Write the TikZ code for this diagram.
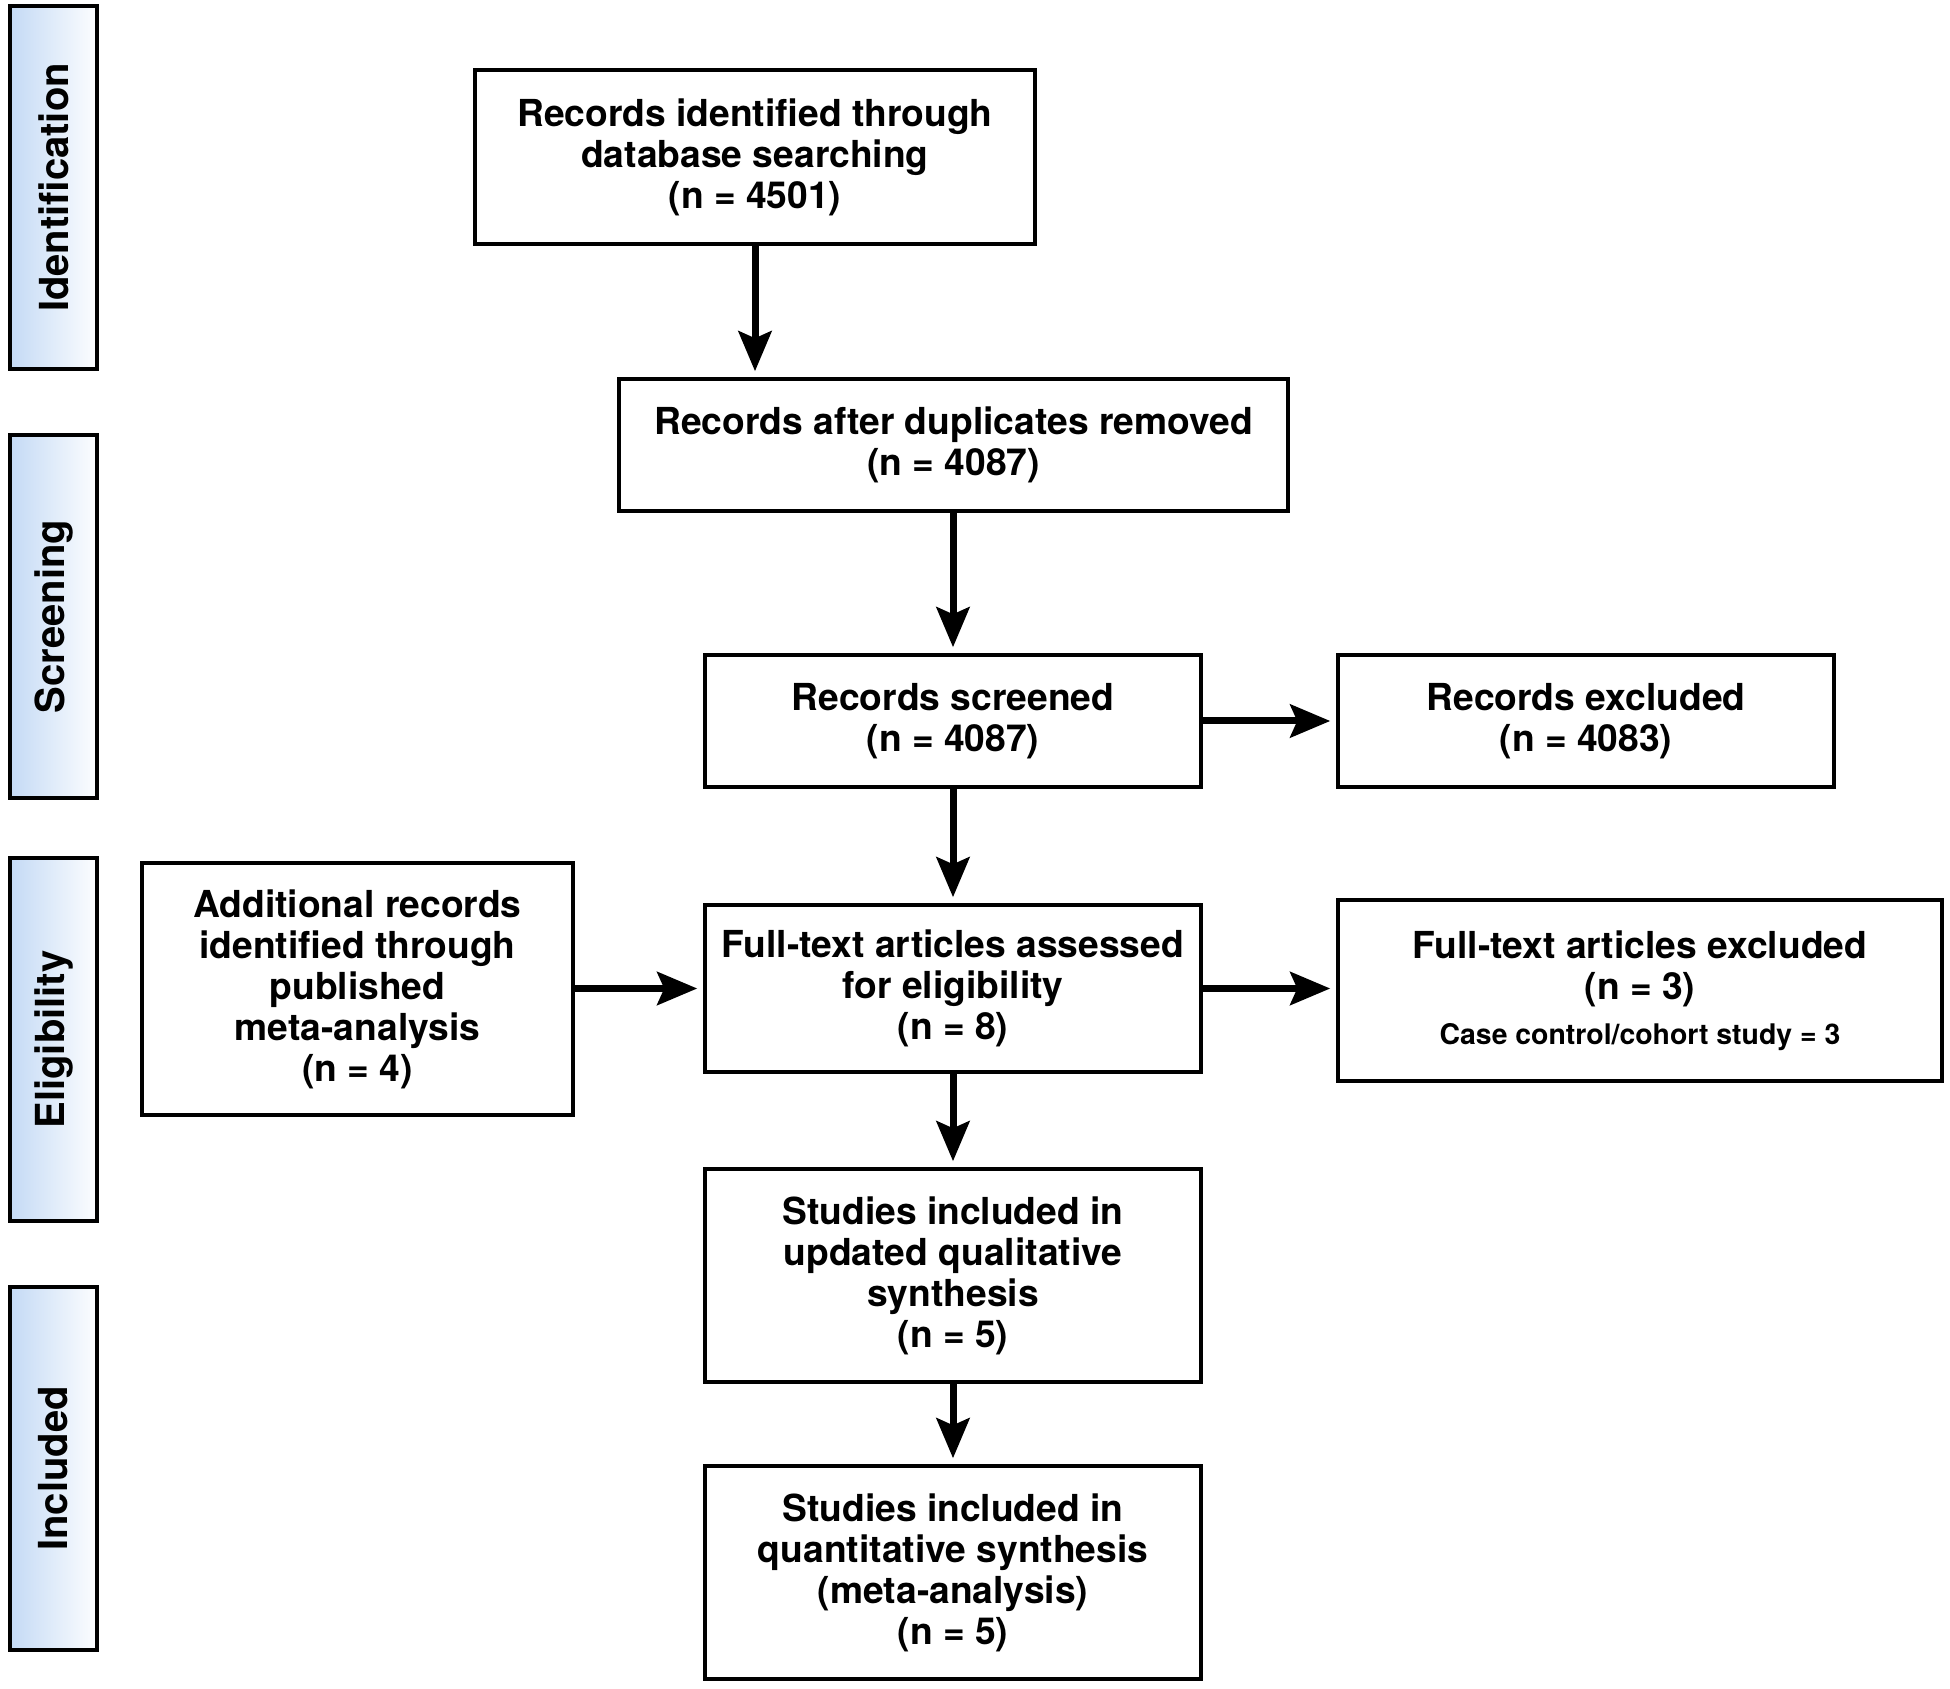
\documentclass[tikz,border=0pt]{standalone}
\usepackage{fontspec}
\setmainfont{TeX Gyre Heros}
\usetikzlibrary{arrows.meta}
\definecolor{sideblue}{RGB}{196,218,245}
\begin{document}
\begin{tikzpicture}[x=0.5pt,y=-0.5pt,
  box/.style={draw=black, line width=1.75pt, fill=white, align=center, inner sep=0pt,
    font=\fontsize{18.6pt}{20.5pt}\selectfont\bfseries},
  side/.style={draw=black, line width=1.9pt, left color=sideblue, right color=white!96!sideblue,
    minimum width=43.5pt, minimum height=181.5pt, inner sep=0pt},
  sidetext/.style={rotate=90, font=\fontsize{20pt}{22pt}\selectfont\bfseries},
  arr/.style={line width=3.5pt, -{Stealth[length=20pt, width=16.5pt, inset=3.5pt]}, shorten >=3pt}
]
\useasboundingbox (0,0) rectangle (1950,1689);
% side phase boxes
\node[side] (sid) at (53.5,187.5) {};
\node[sidetext] (tid) at (sid.center) {Identification};
\node[side] (ssc) at (53.5,616.5) {};
\node[sidetext] (tsc) at (ssc.center) {Screening};
\node[side] (sel) at (53.5,1039.5) {};
\node[sidetext] (tel) at (sel.center) {Eligibility};
\node[side] (sin) at (53.5,1468.5) {};
\node[sidetext] (tin) at (sin.center) {Included};
% main boxes
\node[box, minimum width=280pt, minimum height=87pt] (b1) at (755,157)
  {Records identified through\\database searching\\(n = 4501)};
\node[box, minimum width=334.5pt, minimum height=66pt] (b2) at (953.5,445)
  {Records after duplicates removed\\(n = 4087)};
\node[box, minimum width=248pt, minimum height=66pt] (b3) at (953,721)
  {Records screened\\(n = 4087)};
\node[box, minimum width=248pt, minimum height=66pt] (ex1) at (1586,721)
  {Records excluded\\(n = 4083)};
\node[box, minimum width=215.5pt, minimum height=126pt] (add) at (357.5,989)
  {Additional records\\identified through\\published\\meta-analysis\\(n = 4)};
\node[box, minimum width=248pt, minimum height=83.5pt] (ft) at (953,988.5)
  {Full-text articles assessed\\for eligibility\\(n = 8)};
\node[box, minimum width=302pt, minimum height=90.5pt] (ex2) at (1640,990.5)
  {Full-text articles excluded\\(n = 3)\\[2pt]{\fontsize{14.2pt}{17pt}\selectfont Case control/cohort study = 3}};
\node[box, minimum width=248pt, minimum height=106.5pt] (q1) at (953,1275.5)
  {Studies included in\\updated qualitative\\synthesis\\(n = 5)};
\node[box, minimum width=248pt, minimum height=106.5pt] (q2) at (953,1572.5)
  {Studies included in\\quantitative synthesis\\(meta-analysis)\\(n = 5)};
% arrows
\draw[arr] (b1.south) -- (b1.south |- b2.north);
\draw[arr] (b2.south -| b3.north) -- (b3.north);
\draw[arr] (b3.east) -- (ex1.west);
\draw[arr] (b3.south) -- (ft.north);
\draw[arr] (add.east |- ft.west) -- (ft.west);
\draw[arr] (ft.east) -- (ft.east -| ex2.west);
\draw[arr] (ft.south) -- (q1.north);
\draw[arr] (q1.south) -- (q2.north);
\end{tikzpicture}
\end{document}
